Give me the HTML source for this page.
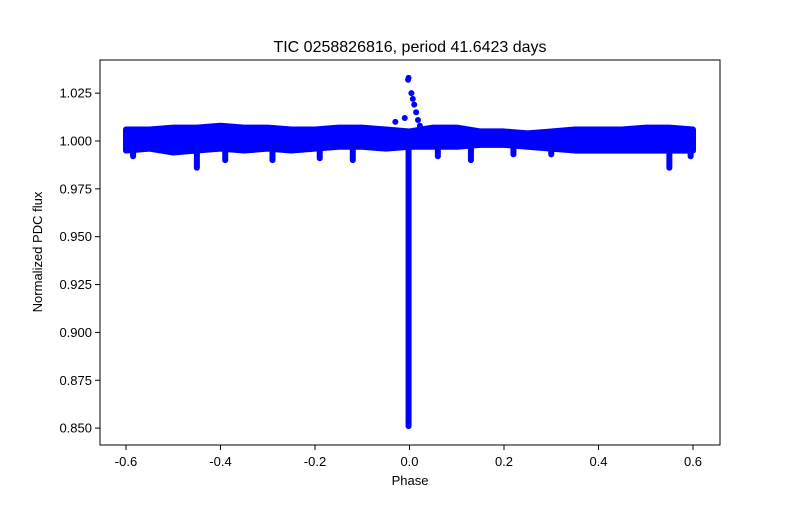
<!DOCTYPE html>
<html><head><meta charset="utf-8"><style>
body{margin:0;background:#fff;}
svg{font-family:"Liberation Sans","DejaVu Sans",sans-serif;}
</style></head><body>
<svg width="800" height="500" viewBox="0 0 800 500">
<rect width="800" height="500" fill="#fff"/>
<text x="410" y="52" font-size="16" text-anchor="middle">TIC 0258826816, period 41.6423 days</text>
<g id="marks"></g>
<rect x="100" y="60" width="620" height="385" fill="none" stroke="#000" stroke-width="1"/>
<g id="xticks"></g>
<g id="yticks"></g>
<text x="410" y="485" font-size="13" text-anchor="middle">Phase</text>
<text x="42" y="252" font-size="13" text-anchor="middle" transform="rotate(-90 42 252)">Normalized PDC flux</text>
</svg>
<script>
const phases=[-0.6,-0.55,-0.5,-0.45,-0.4,-0.35,-0.3,-0.25,-0.2,-0.15,-0.1,-0.05,0,0.05,0.1,0.15,0.2,0.25,0.3,0.35,0.4,0.45,0.5,0.55,0.6];
const upper=[1.006,1.006,1.007,1.007,1.008,1.007,1.007,1.006,1.006,1.007,1.007,1.006,1.005,1.007,1.007,1.005,1.005,1.004,1.005,1.006,1.006,1.006,1.007,1.007,1.006];
const lower=[0.995,0.996,0.994,0.995,0.996,0.995,0.996,0.995,0.996,0.997,0.997,0.996,0.997,0.997,0.997,0.998,0.998,0.997,0.996,0.995,0.995,0.995,0.995,0.995,0.995];
const dipPhases=[-0.585,-0.45,-0.39,-0.29,-0.19,-0.12,0.06,0.13,0.22,0.3,0.55,0.595];
const dipFlux=[0.992,0.986,0.99,0.99,0.991,0.99,0.992,0.99,0.993,0.993,0.986,0.992];
const transitPhase=[-0.002,-0.002];
const transitFlux=[0.851,1.0];
const spikePhases=[-0.003,-0.002,0.004,0.007,0.01,0.014,0.018,0.022,-0.01,-0.03];
const spikeFlux=[1.032,1.033,1.025,1.022,1.019,1.015,1.011,1.008,1.012,1.01];
const xTicks=[-0.6,-0.4,-0.2,0.0,0.2,0.4,0.6];
const yTicks=[0.850,0.875,0.900,0.925,0.950,0.975,1.000,1.025];

const X=v=>409.5+v*472.5;
const Y=v=>141-(v-1.0)*1914;
const NS='http://www.w3.org/2000/svg';
const marks=document.getElementById('marks');
function mk(t,a,p){const e=document.createElementNS(NS,t);for(const k in a)e.setAttribute(k,a[k]);p.appendChild(e);return e;}
const blue='#0000ff';
let pts=phases.map((p,i)=>X(p)+','+Y(upper[i]));
for(let i=phases.length-1;i>=0;i--)pts.push(X(phases[i])+','+Y(lower[i]));
const band=mk('polygon',{points:pts.join(' '),fill:blue,stroke:blue,'stroke-width':6,'stroke-linejoin':'round'},marks);


dipPhases.forEach((p,i)=>{
 const l=mk('line',{x1:X(p),x2:X(p),y1:Y(0.998),y2:Y(dipFlux[i]),stroke:blue,'stroke-width':6,'stroke-linecap':'round'},marks);
 
 
});
const tr=mk('line',{x1:X(transitPhase[0]),x2:X(transitPhase[1]),y1:Y(transitFlux[0]),y2:Y(transitFlux[1]),stroke:blue,'stroke-width':6,'stroke-linecap':'round'},marks);


spikePhases.forEach((p,i)=>{
 const c=mk('circle',{cx:X(p),cy:Y(spikeFlux[i]),r:3,fill:blue},marks);
 
 
});
const xg=document.getElementById('xticks');
xTicks.forEach(t=>{
 mk('line',{x1:X(t),x2:X(t),y1:445,y2:450,stroke:'#000'},xg);
 const s=mk('text',{x:X(t),y:466,'font-size':13,'text-anchor':'middle'},xg);
 s.textContent=t.toFixed(1);
 
 
});
const yg=document.getElementById('yticks');
yTicks.forEach(t=>{
 mk('line',{x1:95,x2:100,y1:Y(t),y2:Y(t),stroke:'#000'},yg);
 const s=mk('text',{x:92,y:Y(t)+4.5,'font-size':13,'text-anchor':'end'},yg);
 s.textContent=t.toFixed(3);
 
 
});
</script>
</body></html>
